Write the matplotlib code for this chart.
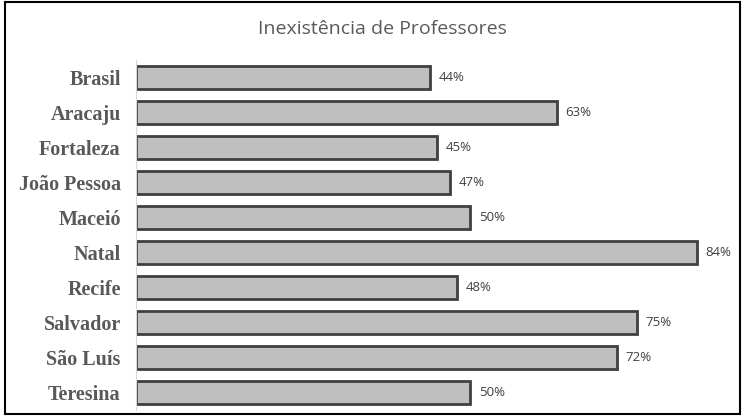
import matplotlib.pyplot as plt
from matplotlib.patches import Rectangle

cidades = ['Brasil', 'Aracaju', 'Fortaleza', 'João Pessoa', 'Maceió',
           'Natal', 'Recife', 'Salvador', 'São Luís', 'Teresina']
valores = [44, 63, 45, 47, 50, 84, 48, 75, 72, 50]

fig = plt.figure(figsize=(7.44, 4.2), dpi=100)
ax = fig.add_axes([136 / 744, 10 / 420, 594 / 744, 350 / 420])

pos = list(range(len(cidades)))
ax.barh(pos, valores, height=0.64, color='#bfbfbf', edgecolor='#404040', linewidth=2)
for p, v in zip(pos, valores):
    ax.text(v + 1.3, p, f'{v}%', va='center', ha='left', fontsize=9.5,
            color='#404040', family='Open Sans')

ax.set_ylim(len(cidades) - 0.5, -0.5)
ax.set_xlim(0, 594 / 6.68)
ax.set_yticks(pos)
ax.set_yticklabels(cidades, family='Liberation Serif', fontweight='bold',
                   fontsize=14.5, color='#595959')
ax.tick_params(axis='y', length=0, pad=11)
ax.set_xticks([])
for s in ['top', 'right', 'bottom']:
    ax.spines[s].set_visible(False)
ax.spines['left'].set_color('#d9d9d9')
ax.spines['left'].set_linewidth(0.8)

fig.text(382 / 744, 1 - 29 / 420, 'Inexistência de Professores', ha='center', va='center',
         fontsize=14, color='#595959', family='Open Sans')

fig.patches.append(Rectangle((5 / 744, 6 / 420), 735 / 744, 412 / 420, transform=fig.transFigure,
                             fill=False, edgecolor='black', linewidth=1.5))

fig.savefig('out.png', dpi=100)
